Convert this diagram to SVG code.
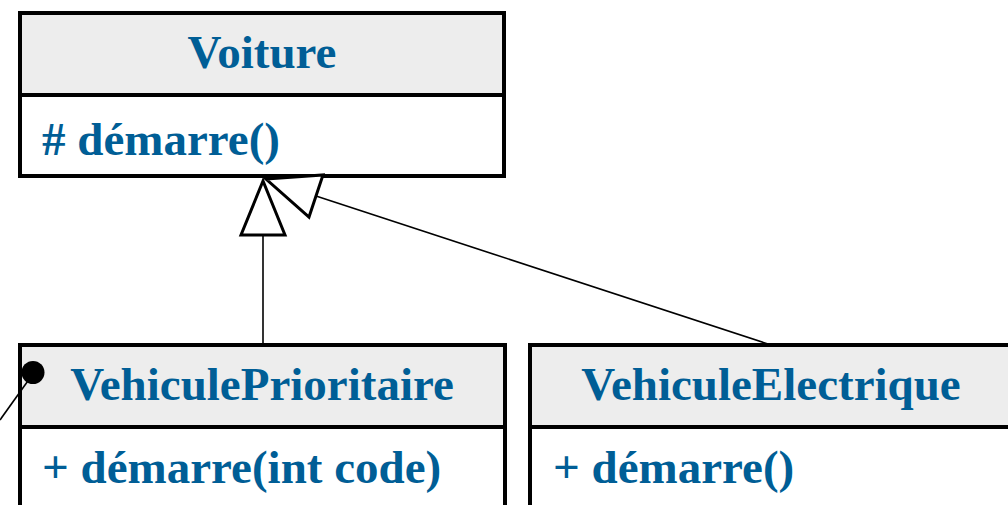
<svg xmlns="http://www.w3.org/2000/svg" width="1008" height="505" viewBox="0 0 1008 505">
<style>
.box{fill:#fff;stroke:#000;stroke-width:4}
.hdr{fill:#ededed;stroke:#000;stroke-width:4}
.t{font-family:"Liberation Serif","Times New Roman",serif;font-weight:bold;font-size:47px;fill:#005e96}
.c{text-anchor:middle}
.tri{fill:#fff;stroke:#000;stroke-width:3;stroke-linejoin:miter}
.ln{stroke:#000;stroke-width:1.6;fill:none}
</style>
<rect width="1008" height="505" fill="#fff"/>
<g id="Voiture">
<rect class="hdr" x="20" y="13" width="484" height="82"/>
<rect class="box" x="20" y="95" width="484" height="81"/>
<text class="t c" x="262" y="68">Voiture</text>
<text class="t" x="42" y="155"># démarre()</text>
</g>
<g id="VehiculePrioritaire">
<rect class="hdr" x="20" y="345" width="485" height="82"/>
<rect class="box" x="20" y="427" width="485" height="90"/>
<text class="t c" x="262" y="400">VehiculePrioritaire</text>
<text class="t" x="42" y="483">+ démarre(int code)</text>
</g>
<g id="VehiculeElectrique">
<rect class="hdr" x="530" y="345" width="490" height="82"/>
<rect class="box" x="530" y="427" width="490" height="90"/>
<text class="t c" x="771" y="400">VehiculeElectrique</text>
<text class="t" x="553" y="483">+ démarre()</text>
</g>
<g id="connectors">
<line class="ln" x1="263" y1="235" x2="263" y2="345"/>
<line class="ln" x1="316" y1="196" x2="771" y2="345"/>
<polygon class="tri" points="263,181 241,235 285,235"/>
<polygon class="tri" points="266,179 323,175 309,217"/>
<line class="ln" x1="0" y1="420" x2="30" y2="378"/>
<circle cx="33" cy="372.5" r="11.5" fill="#000"/>
</g>
</svg>
